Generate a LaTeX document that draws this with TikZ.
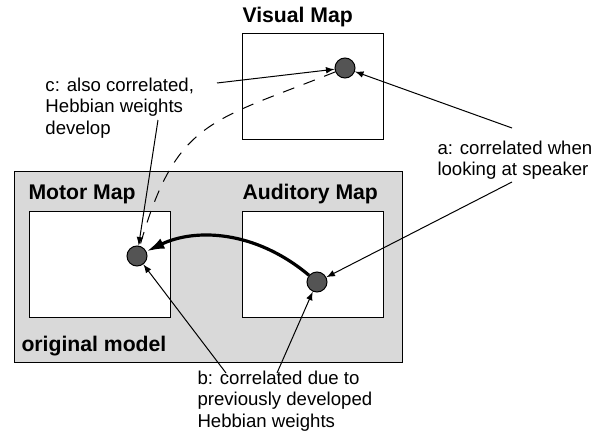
\documentclass[tikz,border=0pt]{standalone}
\usepackage{fontspec}
\usetikzlibrary{arrows.meta}
\setmainfont{Liberation Sans}
\definecolor{boxgray}{gray}{0.85}
\definecolor{dotgray}{gray}{0.33}

\begin{document}
\begin{tikzpicture}[>=latex, x=0.5pt, y=-0.5pt, line width=0.5pt,
  karte/.style={draw, fill=white, minimum width=70.5pt, minimum height=53pt, inner sep=0pt},
  neuron/.style={circle, draw, fill=dotgray, minimum size=10pt, inner sep=0pt},
  titel/.style={anchor=west, inner sep=0pt, font=\fontsize{10.6}{12}\selectfont\bfseries},
  notiz/.style={anchor=west, align=left, inner sep=0pt, font=\fontsize{9.3}{10.75}\selectfont}]

\useasboundingbox (0,0) rectangle (600,439);

% grauer Kasten um das urspruengliche Modell
\node[draw, fill=boxgray, minimum width=194pt, minimum height=95.5pt, inner sep=0pt] (modell) at (208,266.5) {};

% die drei Karten
\node[karte] (motor) at (100,264) {};
\node[karte] (audio) at (312.5,264) {};
\node[karte] (visuell) at (312.5,86) {};

% Titel
\node[titel] (tvis) at (242,17) {Visual Map};
\node[titel] (tmot) at (28,194) {Motor Map};
\node[titel] (taud) at (242,194) {Auditory Map};
\node[titel] (torig) at (21,346) {original model};

% Neuronen
\node[neuron] (vn) at (345,68) {};
\node[neuron] (mn) at (137,256) {};
\node[neuron] (an) at (317,282) {};

% Erklaerungen
\node[notiz] (ctext) at (45,108) {c: also correlated,\\Hebbian weights\\develop};
\node[notiz] (atext) at (437,160) {a: correlated when\\looking at speaker};
\node[notiz] (btext) at (197,401) {b: correlated due to\\previously developed\\Hebbian weights};

% freie Enden der Pfeile
\coordinate (c1) at (217,83);
\coordinate (c2) at (158,120);
\coordinate (a1) at (512,128);
\coordinate (a2) at (512,182);
\coordinate (b1) at (226,373);
\coordinate (b2) at (277,373);

% Pfeile
\draw[->] (c1) -- (vn);
\draw[->] (c2) -- (mn);
\draw[->] (a1) -- (vn);
\draw[->] (a2) -- (an);
\draw[->] (b1) -- (mn);
\draw[->] (b2) -- (an);
\draw[dash pattern=on 6pt off 5pt] (vn) .. controls (210,122) and (176,120) .. (mn);
\draw[-{Latex[length=9pt,width=5.5pt]}, line width=1.6pt] (an) .. controls (255,230) and (195,228) .. (mn);

\end{tikzpicture}
\end{document}
